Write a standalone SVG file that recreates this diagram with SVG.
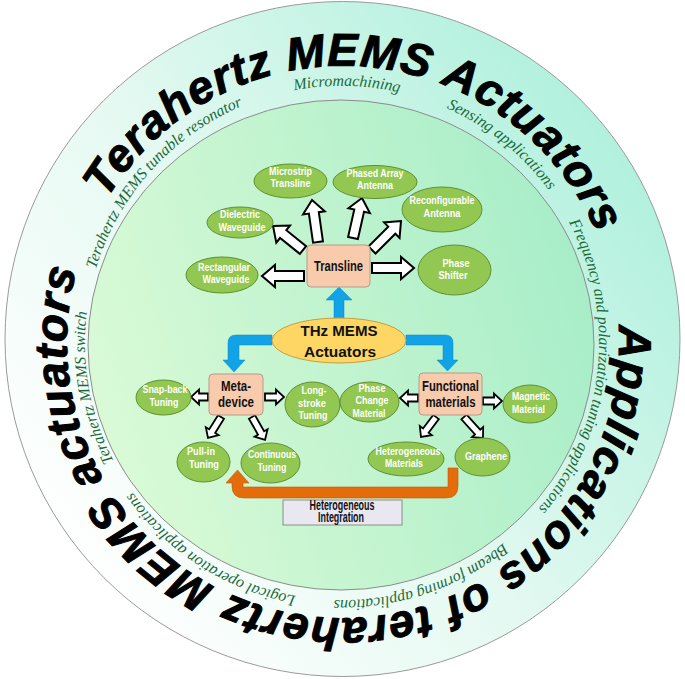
<svg xmlns="http://www.w3.org/2000/svg" width="685" height="679" viewBox="0 0 685 679">
<defs>
<linearGradient id="ringGrad" x1="0.1" y1="0.85" x2="0.95" y2="0.2">
<stop offset="0" stop-color="#ffffff"/>
<stop offset="0.45" stop-color="#e4f9f1"/>
<stop offset="1" stop-color="#aef0dc"/>
</linearGradient>
<linearGradient id="innerGrad" x1="0" y1="0.6" x2="1" y2="0.3">
<stop offset="0" stop-color="#dafad6"/>
<stop offset="1" stop-color="#a6edc8"/>
</linearGradient>
<path id="bigArc" d="M 83.6 247.6 A 276 276 0 1 1 602.4 436.4 A 276 276 0 1 1 83.6 247.6"/>
<path id="smallArc" d="M 89.7 294.0 A 257 257 0 1 1 594.3 392.0 A 257 257 0 1 1 89.7 294.0"/>
<style>
.big{font-family:"Liberation Sans","DejaVu Sans",sans-serif;font-weight:bold;font-style:italic;font-size:46px;fill:#000;stroke:#000;stroke-width:1;letter-spacing:1px;}
.small{font-family:"Liberation Serif","DejaVu Serif",serif;font-style:italic;font-size:16px;fill:#1b6a3a;}
.ell{fill:#92c851;stroke:#5f8f33;stroke-width:1;}
.box{fill:#f8cbad;stroke:#b8998a;stroke-width:1;}
.et{font-family:"Liberation Sans","Arial",sans-serif;font-weight:bold;font-size:11px;fill:#fff;text-anchor:middle;}
.bt{font-family:"Liberation Sans","Arial",sans-serif;font-weight:bold;font-size:14px;fill:#111;text-anchor:middle;}
.hol{fill:#fff;stroke:#000;stroke-width:2;stroke-linejoin:miter;}
.hols{fill:#fff;stroke:#000;stroke-width:1.8;stroke-linejoin:miter;}
.blue{fill:#12a2e6;stroke:#0b8ac6;stroke-width:0.5;}
.orange{fill:#e46c0a;stroke:#c45a06;stroke-width:0.6;}
</style>
</defs>

<g id="background">
<circle cx="342.5" cy="339" r="337.5" fill="url(#ringGrad)" stroke="#9a9a9a" stroke-width="1"/>
<ellipse cx="341" cy="345" rx="253" ry="245" fill="url(#innerGrad)" stroke="#8c8c8c" stroke-width="1"/>
</g>

<g id="ring-titles">
<text class="big"><textPath href="#bigArc" startOffset="357" text-anchor="middle">Terahertz MEMS Actuators</textPath></text>
<text class="big" style="letter-spacing:1.2px"><textPath href="#bigArc" startOffset="1233" text-anchor="middle">Applications of terahertz MEMS actuators</textPath></text>
</g>

<g id="ring-labels">
<text class="small"><textPath href="#smallArc" startOffset="139.1" text-anchor="middle">Terahertz  MEMS tunable resonator</textPath></text>
<text class="small"><textPath href="#smallArc" startOffset="359.3" text-anchor="middle">Micromachining</textPath></text>
<text class="small"><textPath href="#smallArc" startOffset="528.4" text-anchor="middle">Sensing applications</textPath></text>
<text class="small"><textPath href="#smallArc" startOffset="785.4" text-anchor="middle">Frequency and polarization tuning applications</textPath></text>
<text class="small"><textPath href="#smallArc" startOffset="1078.8" text-anchor="middle">Bbeam forming applications</textPath></text>
<text class="small"><textPath href="#smallArc" startOffset="1307.5" text-anchor="middle">Logical operation applications</textPath></text>
<text class="small"><textPath href="#smallArc" startOffset="1519.7" text-anchor="middle">Terahertz MEMS switch</textPath></text>
</g>

<g id="connectors">
<path class="hol" transform="translate(304,276) rotate(180)" d="M0,-5 H29 V-11 L42,0 L29,11 V5 H0 Z"/>
<path class="hol" transform="translate(303,250) rotate(-141.3)" d="M0,-5 H25.4 V-11 L38.4,0 L25.4,11 V5 H0 Z"/>
<path class="hol" transform="translate(318,242) rotate(-98.1)" d="M0,-5 H29.4 V-11 L42.4,0 L29.4,11 V5 H0 Z"/>
<path class="hol" transform="translate(353,238) rotate(-77.3)" d="M0,-5 H28 V-11 L41,0 L28,11 V5 H0 Z"/>
<path class="hol" transform="translate(372,250) rotate(-45)" d="M0,-5 H28 V-11 L41,0 L28,11 V5 H0 Z"/>
<path class="hol" transform="translate(372,268) rotate(0)" d="M0,-5 H29 V-11 L42,0 L29,11 V5 H0 Z"/>
<path class="hols" transform="translate(208,397) rotate(180)" d="M0,-3.5 H9 V-7.5 L17,0 L9,7.5 V3.5 H0 Z"/>
<path class="hols" transform="translate(265,397) rotate(0)" d="M0,-3.5 H11 V-7.5 L19,0 L11,7.5 V3.5 H0 Z"/>
<path class="hols" transform="translate(221,417) rotate(121.8)" d="M0,-3.5 H16.7 V-7.5 L24.7,0 L16.7,7.5 V3.5 H0 Z"/>
<path class="hols" transform="translate(252,417) rotate(60.5)" d="M0,-3.5 H18.4 V-7.5 L26.4,0 L18.4,7.5 V3.5 H0 Z"/>
<path class="hols" transform="translate(418,398) rotate(180)" d="M0,-3.5 H10 V-7.5 L18,0 L10,7.5 V3.5 H0 Z"/>
<path class="hols" transform="translate(483,401) rotate(0)" d="M0,-3.5 H11 V-7.5 L19,0 L11,7.5 V3.5 H0 Z"/>
<path class="hols" transform="translate(436,417) rotate(126.9)" d="M0,-3.5 H17 V-7.5 L25,0 L17,7.5 V3.5 H0 Z"/>
<path class="hols" transform="translate(464,417) rotate(47.9)" d="M0,-3.5 H20.3 V-7.5 L28.3,0 L20.3,7.5 V3.5 H0 Z"/>
<path class="blue" d="M334,319 V300 H326 L339,287 L352,300 H344 V319 Z"/>
<path class="blue" d="M272,335 H236 Q228,335 228,343 V360 H223 L234,372 L245,360 H239 V345 H272 Z"/>
<path class="blue" d="M406,335 H445 Q453,335 453,343 V360 H458 L447.5,371 L437,360 H443 V345 H406 Z"/>
<path class="orange" d="M448,468 H458 V486 Q458,498 446,498 H244 Q232,498 232,486 V483 H226 L237.5,470 L249,483 H243 V487 H448 Z"/>
</g>

<g id="node-transline">
<rect class="box" x="307" y="245" width="63" height="42" rx="4"/>
<text class="bt" x="338.5" y="271" textLength="49" lengthAdjust="spacingAndGlyphs">Transline</text>
</g>

<g id="node-microstrip">
<ellipse class="ell" cx="290.5" cy="181" rx="36.5" ry="17"/>
<text class="et" x="290.5" y="175" textLength="43" lengthAdjust="spacingAndGlyphs">Microstrip</text>
<text class="et" x="290.5" y="187" textLength="40" lengthAdjust="spacingAndGlyphs">Transline</text>
</g>

<g id="node-phased-array">
<ellipse class="ell" cx="375" cy="182" rx="42" ry="16.5"/>
<text class="et" x="375" y="177" textLength="57" lengthAdjust="spacingAndGlyphs">Phased Array</text>
<text class="et" x="375" y="189" textLength="36" lengthAdjust="spacingAndGlyphs">Antenna</text>
</g>

<g id="node-reconfigurable">
<ellipse class="ell" cx="442" cy="209.5" rx="40" ry="22.5"/>
<text class="et" x="442" y="204" textLength="65" lengthAdjust="spacingAndGlyphs">Reconfigurable</text>
<text class="et" x="442" y="217" textLength="37" lengthAdjust="spacingAndGlyphs">Antenna</text>
</g>

<g id="node-dielectric">
<ellipse class="ell" cx="240" cy="222.5" rx="33" ry="15.5"/>
<text class="et" x="240" y="218" textLength="40" lengthAdjust="spacingAndGlyphs">Dielectric</text>
<text class="et" x="242" y="231" textLength="47" lengthAdjust="spacingAndGlyphs">Waveguide</text>
</g>

<g id="node-rectangular">
<ellipse class="ell" cx="222" cy="275" rx="36" ry="18"/>
<text class="et" x="224" y="271" textLength="52" lengthAdjust="spacingAndGlyphs">Rectangular</text>
<text class="et" x="226" y="283" textLength="47" lengthAdjust="spacingAndGlyphs">Waveguide</text>
</g>

<g id="node-phase-shifter">
<ellipse class="ell" cx="454.5" cy="270" rx="36.5" ry="25"/>
<text class="et" x="456" y="267" textLength="27" lengthAdjust="spacingAndGlyphs">Phase</text>
<text class="et" x="453" y="279" textLength="29" lengthAdjust="spacingAndGlyphs">Shifter</text>
</g>

<g id="node-thz-mems">
<ellipse cx="339" cy="340.5" rx="67" ry="22.5" fill="#fdd663" stroke="#c4a040" stroke-width="1"/>
<text class="bt" x="339" y="336" font-size="17" textLength="77" lengthAdjust="spacingAndGlyphs">THz MEMS</text>
<text class="bt" x="340" y="357" font-size="17" textLength="72" lengthAdjust="spacingAndGlyphs">Actuators</text>
</g>

<g id="node-meta-device">
<rect class="box" x="209" y="374" width="54" height="41" rx="4"/>
<text class="bt" x="236" y="391" font-size="13.5" textLength="30" lengthAdjust="spacingAndGlyphs">Meta-</text>
<text class="bt" x="236" y="407" font-size="13.5" textLength="36" lengthAdjust="spacingAndGlyphs">device</text>
</g>

<g id="node-functional">
<rect class="box" x="419" y="373" width="63" height="42" rx="4"/>
<text class="bt" x="450.5" y="391" font-size="13.5" textLength="57" lengthAdjust="spacingAndGlyphs">Functional</text>
<text class="bt" x="450.5" y="407" font-size="13.5" textLength="50" lengthAdjust="spacingAndGlyphs">materials</text>
</g>

<g id="node-snap-back">
<ellipse class="ell" cx="163.5" cy="397.5" rx="27.5" ry="17.5"/>
<text class="et" x="165" y="393" font-size="10.5" textLength="45" lengthAdjust="spacingAndGlyphs">Snap-back</text>
<text class="et" x="164" y="406" font-size="10.5" textLength="29" lengthAdjust="spacingAndGlyphs">Tuning</text>
</g>

<g id="node-long-stroke">
<ellipse class="ell" cx="312.5" cy="404.5" rx="27.5" ry="22.5"/>
<text class="et" x="314" y="394" font-size="10.5" textLength="25" lengthAdjust="spacingAndGlyphs">Long-</text>
<text class="et" x="312" y="407" font-size="10.5" textLength="28" lengthAdjust="spacingAndGlyphs">stroke</text>
<text class="et" x="313" y="419" font-size="10.5" textLength="29" lengthAdjust="spacingAndGlyphs">Tuning</text>
</g>

<g id="node-phase-change">
<ellipse class="ell" cx="369.5" cy="402" rx="29.5" ry="20"/>
<text class="et" x="372" y="392" font-size="10.5" textLength="27" lengthAdjust="spacingAndGlyphs">Phase</text>
<text class="et" x="372" y="404" font-size="10.5" textLength="33" lengthAdjust="spacingAndGlyphs">Change</text>
<text class="et" x="369" y="417" font-size="10.5" textLength="33" lengthAdjust="spacingAndGlyphs">Material</text>
</g>

<g id="node-magnetic">
<ellipse class="ell" cx="530" cy="404" rx="27" ry="19"/>
<text class="et" x="531" y="400" font-size="10.5" textLength="38" lengthAdjust="spacingAndGlyphs">Magnetic</text>
<text class="et" x="528.5" y="413" font-size="10.5" textLength="33" lengthAdjust="spacingAndGlyphs">Material</text>
</g>

<g id="node-pull-in">
<ellipse class="ell" cx="203.5" cy="462" rx="26.5" ry="20"/>
<text class="et" x="201" y="455" font-size="10.5" textLength="28" lengthAdjust="spacingAndGlyphs">Pull-in</text>
<text class="et" x="204" y="468" font-size="10.5" textLength="30" lengthAdjust="spacingAndGlyphs">Tuning</text>
</g>

<g id="node-continuous">
<ellipse class="ell" cx="270.5" cy="463" rx="29.5" ry="20"/>
<text class="et" x="272" y="458" font-size="10.5" textLength="48" lengthAdjust="spacingAndGlyphs">Continuous</text>
<text class="et" x="272" y="471" font-size="10.5" textLength="29" lengthAdjust="spacingAndGlyphs">Tuning</text>
</g>

<g id="node-heterogeneous-materials">
<ellipse class="ell" cx="406" cy="459" rx="38" ry="17"/>
<text class="et" x="408" y="455" font-size="10.5" textLength="65" lengthAdjust="spacingAndGlyphs">Heterogeneous</text>
<text class="et" x="404" y="467" font-size="10.5" textLength="38" lengthAdjust="spacingAndGlyphs">Materials</text>
</g>

<g id="node-graphene">
<ellipse class="ell" cx="482.5" cy="457" rx="27.5" ry="19"/>
<text class="et" x="486" y="460" font-size="10.5" textLength="42" lengthAdjust="spacingAndGlyphs">Graphene</text>
</g>

<g id="node-heterogeneous-integration">
<rect x="283" y="500" width="119" height="25" fill="#e9e7f0" stroke="#8c8c8c" stroke-width="1"/>
<text class="bt" x="342" y="510" font-size="10" textLength="65" lengthAdjust="spacingAndGlyphs">Heterogeneous</text>
<text class="bt" x="341" y="522" font-size="10" textLength="46" lengthAdjust="spacingAndGlyphs">Integration</text>
</g>
</svg>
